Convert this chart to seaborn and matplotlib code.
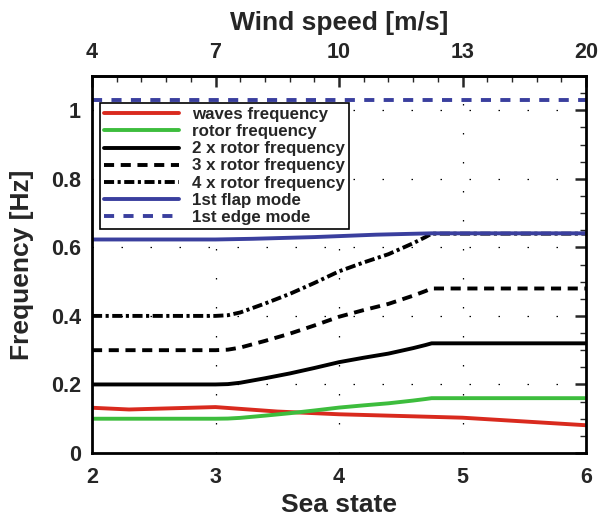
import numpy as np
import pandas as pd
import matplotlib
matplotlib.use("Agg")
import matplotlib.pyplot as plt
from matplotlib.ticker import MultipleLocator
import seaborn as sns

# ---- data ----
sea_state_ticks = [2, 3, 4, 5, 6]
wind_speed_labels = ["4", "7", "10", "13", "20"]

waves_x = [2.0, 2.3, 2.6, 3.0, 3.5, 4.0, 4.5, 5.0, 5.5, 6.0]
waves_y = [0.132, 0.127, 0.130, 0.134, 0.121, 0.113, 0.108, 0.103, 0.092, 0.081]

rotor_x = [2.0, 3.0, 3.1, 3.2, 3.4, 3.6, 3.8, 4.0, 4.2, 4.4, 4.6, 4.7, 4.75, 6.0]
rotor_y = [0.100, 0.100, 0.1005, 0.1025, 0.109, 0.116, 0.124, 0.1325, 0.139, 0.145, 0.153, 0.1575, 0.160, 0.160]

flap_x = [2.0, 3.0, 3.3, 3.8, 4.3, 4.75, 6.0]
flap_y = [0.623, 0.623, 0.625, 0.630, 0.637, 0.641, 0.641]

edge_x = [2.0, 6.0]
edge_y = [1.03, 1.03]

sns.set_style("white")
plt.rcParams["font.family"] = ["Liberation Sans", "DejaVu Sans"]
plt.rcParams["font.weight"] = "bold"
plt.rcParams["axes.labelweight"] = "bold"

fig = plt.figure(figsize=(5.99, 5.19), dpi=100)
L, R, B, T = 92 / 599, 586 / 599, 1 - 453 / 519, 1 - 76 / 519
ax = fig.add_axes([L, B, R - L, T - B])

red = "#d92a1e"
green = "#3dbd3d"
blue = "#3a3f9e"
lw = 2.8

series = [
    (waves_x, waves_y, red, "-", "waves frequency"),
    (rotor_x, rotor_y, green, "-", "rotor frequency"),
    (rotor_x, [2 * v for v in rotor_y], "black", "-", "2 x rotor frequency"),
    (rotor_x, [3 * v for v in rotor_y], "black", (0, (2.6, 1.7)), "3 x rotor frequency"),
    (rotor_x, [4 * v for v in rotor_y], "black", (0, (2.6, 0.9, 0.8, 0.9)), "4 x rotor frequency"),
    (flap_x, flap_y, blue, "-", "1st flap mode"),
    (edge_x, edge_y, blue, (0, (2.6, 2.4)), "1st edge mode"),
]

for xs, ys, c, ls, lab in series:
    df = pd.DataFrame({"x": xs, "y": ys})
    sns.lineplot(data=df, x="x", y="y", ax=ax, color=c, linewidth=lw,
                 linestyle=ls, label=lab, sort=False)

ax.set_xlim(2, 6)
ax.set_ylim(0, 1.1)
ax.set_xticks(sea_state_ticks)
ax.set_xticklabels([str(t) for t in sea_state_ticks])
ax.set_yticks([0, 0.2, 0.4, 0.6, 0.8, 1.0])
ax.set_yticklabels(["0", "0.2", "0.4", "0.6", "0.8", "1"])
ax.xaxis.set_minor_locator(MultipleLocator(0.2))
ax.yaxis.set_minor_locator(MultipleLocator(0.05))

ax.tick_params(which="major", direction="in", length=8, width=1.8,
               labelsize=15.5, top=False, right=True)
ax.tick_params(axis="x", which="major", pad=10)
ax.tick_params(axis="y", which="major", pad=8)
ax.tick_params(which="minor", direction="in", length=4, width=1.0,
               top=False, right=True)
for lab in ax.get_xticklabels() + ax.get_yticklabels():
    lab.set_fontweight("bold")

for s in ax.spines.values():
    s.set_linewidth(2.0)
    s.set_color("black")

ax.grid(True, which="major", color="black", linewidth=0.9,
        linestyle=(0, (1.2, 22)))

ax.set_xlabel("Sea state", fontsize=19, fontweight="bold", labelpad=4)
ax.set_ylabel("Frequency [Hz]", fontsize=19, fontweight="bold", labelpad=12)

top = ax.secondary_xaxis("top")
top.set_xticks(sea_state_ticks)
top.set_xticklabels(wind_speed_labels)
top.xaxis.set_minor_locator(MultipleLocator(0.2))
top.tick_params(which="major", direction="in", length=8, width=1.8,
                labelsize=15.5, pad=9)
top.tick_params(which="minor", direction="in", length=4, width=1.0)
for lab in top.get_xticklabels():
    lab.set_fontweight("bold")
top.spines["top"].set_linewidth(2.0)
top.set_xlabel("Wind speed [m/s]", fontsize=19, fontweight="bold", labelpad=9)

leg = ax.legend(loc="upper left", bbox_to_anchor=(0.016, 0.928),
                prop={"family": ["Liberation Sans"], "weight": "bold", "size": 12.2},
                frameon=True, fancybox=False, edgecolor="black",
                handlelength=4.4, handletextpad=0.8, labelspacing=0.12,
                borderpad=0.25, borderaxespad=0.0)
leg.get_frame().set_linewidth(1.2)
leg.get_frame().set_alpha(1.0)

fig.savefig("out.png", dpi=100)
